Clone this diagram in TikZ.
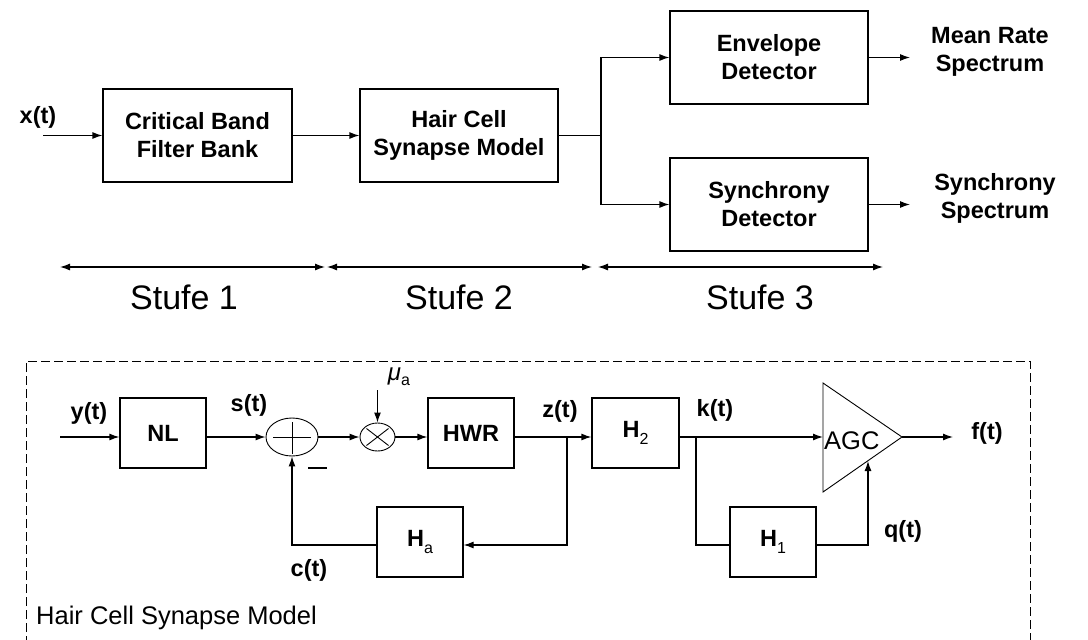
\documentclass[tikz,border=0pt]{standalone}
\usepackage{fontspec}
\setmainfont{Liberation Sans}
\usetikzlibrary{arrows.meta,shapes.geometric,calc}
\begin{document}
\begin{tikzpicture}[x=1pt,y=-1pt,
  blk/.style={draw,line width=1.2pt,inner sep=0pt,align=center,font=\bfseries\fontsize{23.5}{28}\selectfont},
  lbl/.style={inner sep=0pt,align=center,font=\bfseries\fontsize{23.5}{28}\selectfont},
  stufe/.style={inner sep=0pt,font=\fontsize{34}{36}\selectfont},
  ln/.style={line width=1.2pt},
  arr/.style={line width=1.2pt,-{Latex[length=10pt,width=7pt]}},
  darr/.style={line width=1.2pt,{Latex[length=10pt,width=7pt]}-{Latex[length=10pt,width=7pt]}},
  thinln/.style={line width=0.9pt}]
\useasboundingbox (0,0) rectangle (1088,640);

% ---------- top chain ----------
\node[blk,minimum width=189pt,minimum height=93pt] (cbf) at (197.5,135.5) {Critical Band\\Filter Bank};
\node[blk,minimum width=198pt,minimum height=93pt] (hcs) at (459,135.5) {Hair Cell\\Synapse Model};
\node[blk,minimum width=198pt,minimum height=93pt] (env) at (769,57.5) {Envelope\\Detector};
\node[blk,minimum width=198pt,minimum height=93pt] (syn) at (769,204.5) {Synchrony\\Detector};

\node[lbl] (xt) at (38,117) {x(t)};
\coordinate (xin) at (43,135.5);
\coordinate (br) at (601,135.5);
\coordinate (o1) at (910,57.5);
\coordinate (o2) at (910,204.5);
\node[lbl] (mrs) at (990,52) {Mean Rate\\Spectrum};
\node[lbl] (sys) at (995,198) {Synchrony\\Spectrum};

\draw[arr] (xin) -- (cbf.west);
\draw[arr] (cbf.east) -- (hcs.west);
\draw[ln] (hcs.east) -- (br);
\draw[arr] (br) |- (env.west);
\draw[arr] (br) |- (syn.west);
\draw[arr] (env.east) -- (o1);
\draw[arr] (syn.east) -- (o2);

% ---------- Stufen ----------
\coordinate (s1a) at (60,267);
\coordinate (s1b) at (325,267);
\coordinate (s2a) at (327,267);
\coordinate (s2b) at (592,267);
\coordinate (s3a) at (598,267);
\coordinate (s3b) at (883,267);
\draw[darr] (s1a) -- (s1b);
\draw[darr] (s2a) -- (s2b);
\draw[darr] (s3a) -- (s3b);
\node[stufe] (st1) at (184,297) {Stufe 1};
\node[stufe] (st2) at (459,297) {Stufe 2};
\node[stufe] (st3) at (760,297) {Stufe 3};

% ---------- lower dashed frame ----------
\draw[line width=0.9pt,dash pattern=on 9pt off 4pt] (26,645) -- (26,361) -- (1030,361) -- (1030,645);
\node[inner sep=0pt,anchor=west,font=\fontsize{25.5}{28}\selectfont] (hcsm) at (36,618) {Hair Cell Synapse Model};

% ---------- lower blocks ----------
\node[blk,minimum width=86pt,minimum height=70pt] (nl) at (163,433) {NL};
\node[blk,minimum width=86pt,minimum height=70pt] (hwr) at (471,433) {HWR};
\node[blk,minimum width=87pt,minimum height=70pt] (h2) at (635.5,433) {H\raisebox{-7pt}{\mdseries\fontsize{16}{16}\selectfont 2}};
\node[blk,minimum width=86pt,minimum height=70pt] (ha) at (420,542) {H\raisebox{-7pt}{\mdseries\fontsize{16}{16}\selectfont a}};
\node[blk,minimum width=86pt,minimum height=70pt] (h1) at (773,542) {H\raisebox{-7pt}{\mdseries\fontsize{16}{16}\selectfont 1}};

\node[draw,thinln,ellipse,inner sep=0pt,minimum width=52pt,minimum height=38pt] (sum) at (292,437) {};
\draw[thinln] ($(sum.center)+(-19,0)$) -- ($(sum.center)+(19,0)$);
\draw[thinln] ($(sum.center)+(0,-15)$) -- ($(sum.center)+(0,17)$);
\draw[ln] (308,468) -- (327,468);

\node[draw,thinln,ellipse,inner sep=0pt,minimum width=35pt,minimum height=28pt] (mul) at (377.5,437) {};
\draw[thinln] ($(mul.center)+(-11,-8.5)$) -- ($(mul.center)+(11,8.5)$);
\draw[thinln] ($(mul.center)+(-11,8.5)$) -- ($(mul.center)+(11,-8.5)$);

% AGC triangle
\coordinate (ta) at (823,383);
\coordinate (tb) at (823,492);
\coordinate (agcout) at (902,437);
\coordinate (agcin) at (823,437);
\coordinate (agcbot) at (868,461);
\draw[thinln] (ta) -- (agcout) -- (tb) -- cycle;
\node[inner sep=0pt,anchor=west,font=\fontsize{25.5}{28}\selectfont] (agc) at (824,441) {AGC};

% labels
\node[lbl] (yt) at (89,413) {y(t)};
\node[lbl] (stl) at (249,405) {s(t)};
\node[lbl] (zt) at (560,411) {z(t)};
\node[lbl] (kt) at (715,410) {k(t)};
\node[lbl] (ft) at (987,433) {f(t)};
\node[lbl] (qt) at (903,531) {q(t)};
\node[lbl] (ct) at (309,570) {c(t)};
\node[inner sep=0pt,font=\fontsize{24}{26}\selectfont] (mu) at (399,377) {\itshape μ\upshape\raisebox{-5pt}{\fontsize{16}{16}\selectfont a}};

% coordinates for connectors
\coordinate (yin) at (60,437);
\coordinate (muin) at (377.5,390);
\coordinate (zb) at (567,437);
\coordinate (kb) at (696,437);
\coordinate (fout) at (953,437);

% lower connectors
\draw[arr] (yin) -- ([yshift=-4pt]nl.west);
\draw[arr] ([yshift=-4pt]nl.east) -- (sum.west);
\draw[arr] (sum.east) -- (mul.west);
\draw[arr] (muin) -- (mul.north);
\draw[arr] (mul.east) -- ([yshift=-4pt]hwr.west);
\draw[ln] ([yshift=-4pt]hwr.east) -- (zb);
\draw[arr] (zb) -- ([yshift=-4pt]h2.west);
\draw[arr] (zb) |- ([yshift=-3pt]ha.east);
\draw[arr] ([yshift=-3pt]ha.west) -| (sum.south);
\draw[ln] ([yshift=-4pt]h2.east) -- (kb);
\draw[arr] (kb) -- (agcin);
\draw[ln] (kb) |- ([yshift=-3pt]h1.west);
\draw[arr] ([yshift=-3pt]h1.east) -| (agcbot);
\draw[arr] (agcout) -- (fout);
\end{tikzpicture}
\end{document}
